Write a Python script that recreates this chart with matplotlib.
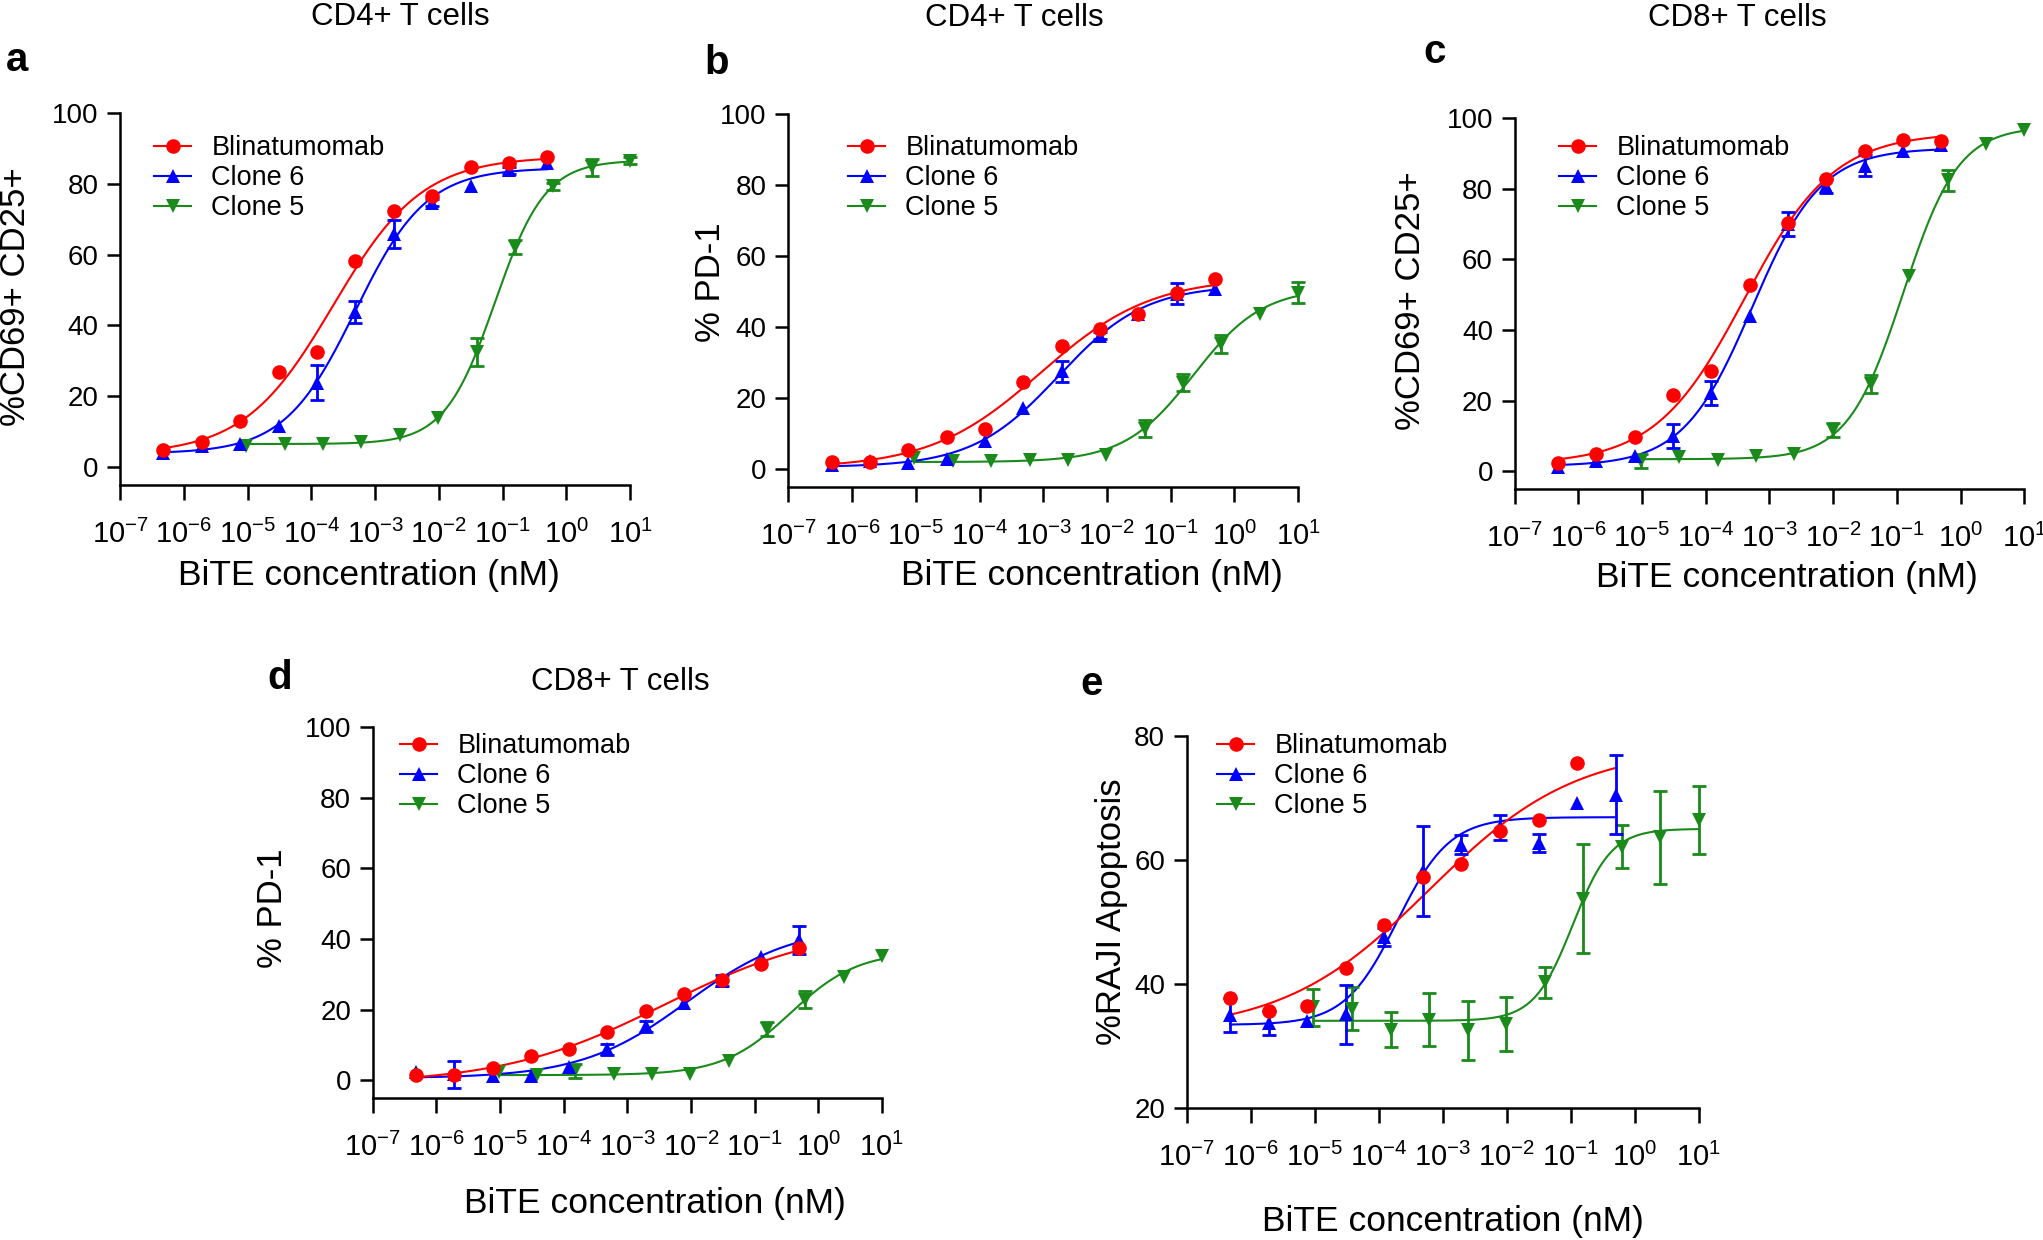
import numpy as np
import matplotlib
matplotlib.use("Agg")
import matplotlib.pyplot as plt
from matplotlib.lines import Line2D

plt.rcParams['font.family'] = ['Liberation Sans', 'DejaVu Sans']
plt.rcParams['mathtext.fontset'] = 'custom'
plt.rcParams['mathtext.rm'] = 'Liberation Sans'
plt.rcParams['mathtext.it'] = 'Liberation Sans:italic'
plt.rcParams['mathtext.bf'] = 'Liberation Sans:bold'

# concentrations (nM), 4-fold dilutions
conc = [4.77e-7, 1.91e-6, 7.63e-6, 3.05e-5, 1.22e-4, 4.88e-4, 1.95e-3, 7.81e-3, 3.13e-2, 0.125, 0.5]
conc_c5 = [9.54e-6, 3.81e-5, 1.53e-4, 6.10e-4, 2.44e-3, 9.77e-3, 3.91e-2, 0.156, 0.625, 2.5, 10.0]

labels = ["Blinatumomab", "Clone 6", "Clone 5"]
colors = ["#ff0000", "#0000ff", "#1a8a1a"]
markers = ["o", "^", "v"]

# panel a: CD4+ CD69+CD25+
a_blina = [4.9, 7.0, 13.0, 26.7, 32.5, 58.1, 72.5, 76.5, 84.8, 86.0, 87.7]
a_blina_err = [0, 0, 0, 0, 0, 0, 0, 0, 0, 0, 0]
a_c6 = [3.8, 6.0, 6.5, 11.7, 23.8, 43.8, 65.8, 74.7, 79.5, 83.9, 86.0]
a_c6_err = [0, 0, 0, 0, 5, 3, 4, 1, 0, 1, 0]
a_c5 = [6.0, 6.5, 6.5, 7.0, 8.9, 13.7, 32.5, 62.2, 79.3, 84.7, 86.6]
a_c5_err = [0, 0, 0, 0, 0, 0, 4, 2, 1, 2.5, 1]

# panel b: CD4+ PD-1
b_blina = [1.8, 2.0, 5.3, 8.8, 11.3, 24.5, 34.5, 39.4, 43.5, 49.6, 53.6]
b_blina_err = [0, 0, 0, 0, 0, 0, 0, 0, 0, 0, 0]
b_c6 = [1.1, 2.2, 1.6, 2.7, 7.8, 17.0, 27.5, 37.5, 43.7, 49.3, 50.7]
b_c6_err = [0, 0, 0, 0, 0, 0, 3, 1, 0, 3, 0]
b_c5 = [3.0, 2.2, 2.2, 2.4, 2.4, 4.0, 11.3, 24.3, 35.1, 43.7, 49.6]
b_c5_err = [0, 0, 0, 0, 0, 0, 2.5, 2.5, 2.5, 0, 3]

# panel c: CD8+ CD69+CD25+
c_blina = [2.4, 4.8, 9.7, 21.5, 28.4, 52.7, 70.2, 82.7, 90.6, 93.8, 93.5]
c_blina_err = [0, 0, 0, 0, 0, 0, 0, 0, 0, 0, 0]
c_c6 = [1.3, 2.9, 4.5, 10.0, 22.2, 44.0, 70.0, 80.8, 86.5, 90.6, 92.2]
c_c6_err = [0, 0, 0, 3.5, 3.5, 0, 3.5, 2, 3, 0, 0]
c_c5 = [2.9, 4.0, 3.1, 4.3, 4.8, 11.6, 24.8, 55.4, 82.3, 92.7, 96.5]
c_c5_err = [2, 0, 0, 0, 0, 2, 2.5, 0, 3, 0, 0]

# panel d: CD8+ PD-1
d_blina = [1.3, 1.5, 3.3, 6.7, 8.7, 13.6, 19.7, 24.4, 28.5, 32.8, 37.4]
d_blina_err = [0, 0, 0, 0, 0, 0, 0, 0, 0, 0, 0]
d_c6 = [2.2, 1.6, 1.1, 1.1, 3.8, 8.7, 15.2, 21.9, 28.2, 34.9, 39.6]
d_c6_err = [0, 3.8, 0, 0, 0, 1.5, 1.5, 0, 1.5, 0, 4]
d_c5 = [2.2, 1.3, 2.5, 1.6, 1.6, 1.6, 5.4, 14.6, 22.8, 29.1, 35.2]
d_c5_err = [0, 0, 2, 0, 0, 0, 0, 2, 2.5, 0, 0]

# panel e: RAJI apoptosis (last Blinatumomab point is off the axis)
e_blina = [37.7, 35.7, 36.5, 42.6, 49.6, 57.2, 59.4, 64.7, 66.5, 75.7, np.nan]
e_blina_err = [0, 0, 0, 0, 0, 0, 0, 0, 0, 0, 0]
e_c6 = [35.0, 33.7, 34.0, 35.1, 47.6, 58.2, 62.5, 65.3, 62.8, 69.2, 70.6]
e_c6_err = [2.8, 2.0, 0, 4.8, 1.5, 7.3, 1.5, 2.0, 1.4, 0, 6.4]
e_c5 = [36.2, 36.0, 32.6, 34.2, 32.5, 33.5, 40.3, 53.8, 62.2, 63.7, 66.5]
e_c5_err = [3.0, 3.5, 2.8, 4.3, 4.8, 4.4, 2.5, 8.8, 3.5, 7.5, 5.5]


def fit_4pl(x, y):
    # least squares 4PL: grid over logEC50 and hill, bottom/top solved linearly
    x = np.asarray(x, float)
    y = np.asarray(y, float)
    ok = ~np.isnan(y)
    lx = np.log10(x[ok])
    y = y[ok]
    L = np.arange(-7, 2, 0.01)[:, None]
    best = None
    with np.errstate(all='ignore'):
        for h in np.arange(0.3, 3.0, 0.02):
            s = 1 / (1 + 10 ** ((L - lx) * h))
            u = 1 - s
            suu = (u * u).sum(1)
            sss = (s * s).sum(1)
            sus = (u * s).sum(1)
            suy = (u * y).sum(1)
            ssy = (s * y).sum(1)
            det = suu * sss - sus ** 2
            b = (sss * suy - sus * ssy) / det
            t = (suu * ssy - sus * suy) / det
            res = ((b[:, None] * u + t[:, None] * s - y) ** 2).sum(1)
            res[~np.isfinite(res)] = np.inf
            i = res.argmin()
            if best is None or res[i] < best[0]:
                best = (res[i], b[i], t[i], L[i, 0], h)
    return best[1:]


def curve(params, xs):
    b, t, l, h = params
    return b + (t - b) / (1 + 10 ** ((l - np.log10(xs)) * h))


W, H = 2043, 1240
fig = plt.figure(figsize=(W / 100, H / 100), dpi=100)
MS = 10.5


def add_ax(l, r, t, b):
    return fig.add_axes([l / W, 1 - b / H, (r - l) / W, (b - t) / H])


def draw_panel(ax, series, ylim, yticks, leg_xy):
    for (x, y, err, col, mk) in series[::-1]:
        x = np.asarray(x, float)
        y = np.asarray(y, float)
        err = np.asarray(err, float)
        p = fit_4pl(x, y)
        xs = np.logspace(np.log10(x.min()), np.log10(x.max()), 300)
        ax.plot(xs, curve(p, xs), color=col, lw=1.5, zorder=2, clip_on=False)
        m = err > 0
        ax.errorbar(x[m], y[m], yerr=err[m], fmt='none', ecolor=col, elinewidth=2,
                    capsize=5, capthick=2, zorder=3, clip_on=False)
        ax.plot(x, y, linestyle='none', marker=mk, ms=MS, color=col,
                markeredgewidth=0, zorder=4, clip_on=False)
    ax.set_xscale('log')
    ax.set_xlim(1e-7, 10)
    ax.set_ylim(*ylim)
    ax.spines['top'].set_visible(False)
    ax.spines['right'].set_visible(False)
    for sp in ['left', 'bottom']:
        ax.spines[sp].set_linewidth(1.8)
    ax.set_xticks([10.0 ** k for k in range(-7, 2)])
    ax.set_xticklabels([r'$\mathregular{10^{%d}}$' % k for k in range(-7, 2)])
    ax.xaxis.set_minor_locator(matplotlib.ticker.NullLocator())
    ax.set_yticks(yticks)
    ax.tick_params(axis='x', direction='out', length=11, width=1.8,
                   labelsize=21, pad=14)
    ax.tick_params(axis='y', direction='out', length=9.6, width=1.8,
                   labelsize=20, pad=6)
    handles = [Line2D([], [], color=c, marker=mk, ms=MS, markeredgewidth=0, lw=1.5)
               for c, mk in zip(colors, markers)]
    ax.legend(handles, labels, loc='upper left', frameon=False, fontsize=19.5,
              bbox_to_anchor=(leg_xy[0] / W, 1 - leg_xy[1] / H),
              bbox_transform=fig.transFigure, borderpad=0, borderaxespad=0,
              labelspacing=0.15, handlelength=1.37, handletextpad=0.75)


def series_of(blina, blina_err, c6, c6_err, c5, c5_err):
    return [(conc, blina, blina_err, colors[0], markers[0]),
            (conc, c6, c6_err, colors[1], markers[1]),
            (conc_c5, c5, c5_err, colors[2], markers[2])]


ax_a = add_ax(120.1, 630.2, 113.3, 484.9)
draw_panel(ax_a, series_of(a_blina, a_blina_err, a_c6, a_c6_err, a_c5, a_c5_err),
           (-5.1, 100), [0, 20, 40, 60, 80, 100], (154, 135))
ax_b = add_ax(788.4, 1298, 114, 486.8)
draw_panel(ax_b, series_of(b_blina, b_blina_err, b_c6, b_c6_err, b_c5, b_c5_err),
           (-5.1, 100), [0, 20, 40, 60, 80, 100], (848, 135))
ax_c = add_ax(1514.6, 2024.3, 117.9, 489.1)
draw_panel(ax_c, series_of(c_blina, c_blina_err, c_c6, c_c6_err, c_c5, c_c5_err),
           (-5.0, 100), [0, 20, 40, 60, 80, 100], (1559, 135))
ax_d = add_ax(372.7, 881.9, 727.3, 1097.7)
draw_panel(ax_d, series_of(d_blina, d_blina_err, d_c6, d_c6_err, d_c5, d_c5_err),
           (-5.0, 100), [0, 20, 40, 60, 80, 100], (400, 733))
ax_e = add_ax(1186.7, 1698.9, 736.4, 1107.7)
draw_panel(ax_e, series_of(e_blina, e_blina_err, e_c6, e_c6_err, e_c5, e_c5_err),
           (20, 80), [20, 40, 60, 80], (1217, 733))


def ftext(x, y, s, **kw):
    fig.text(x / W, 1 - y / H, s, **kw)


# titles
for x, y, s in [(400, 17, "CD4+ T cells"), (1014, 18, "CD4+ T cells"),
                (1737, 18, "CD8+ T cells"), (620, 682, "CD8+ T cells")]:
    ftext(x, y, s, fontsize=22.5, ha='center', va='center')

# panel letters
for x, y, s in [(17, 60, "a"), (717, 63, "b"), (1435, 52, "c"),
                (280, 678, "d"), (1092, 684, "e")]:
    ftext(x, y, s, fontsize=29, fontweight='bold', ha='center', va='center')

# y labels
for x, y, s in [(16, 297, "%CD69+ CD25+"), (710, 282, "% PD-1"),
                (1411, 301, "%CD69+ CD25+"), (273, 908, "% PD-1"),
                (1111, 912, "%RAJI Apoptosis")]:
    ftext(x, y, s, fontsize=25, rotation=90, ha='center', va='center')

# x labels
for x, y in [(369, 585), (1092, 585), (1787, 587), (655, 1213), (1453, 1231)]:
    ftext(x, y, "BiTE concentration (nM)", fontsize=25.5, ha='center', va='baseline')

fig.savefig("out.png", dpi=100)
